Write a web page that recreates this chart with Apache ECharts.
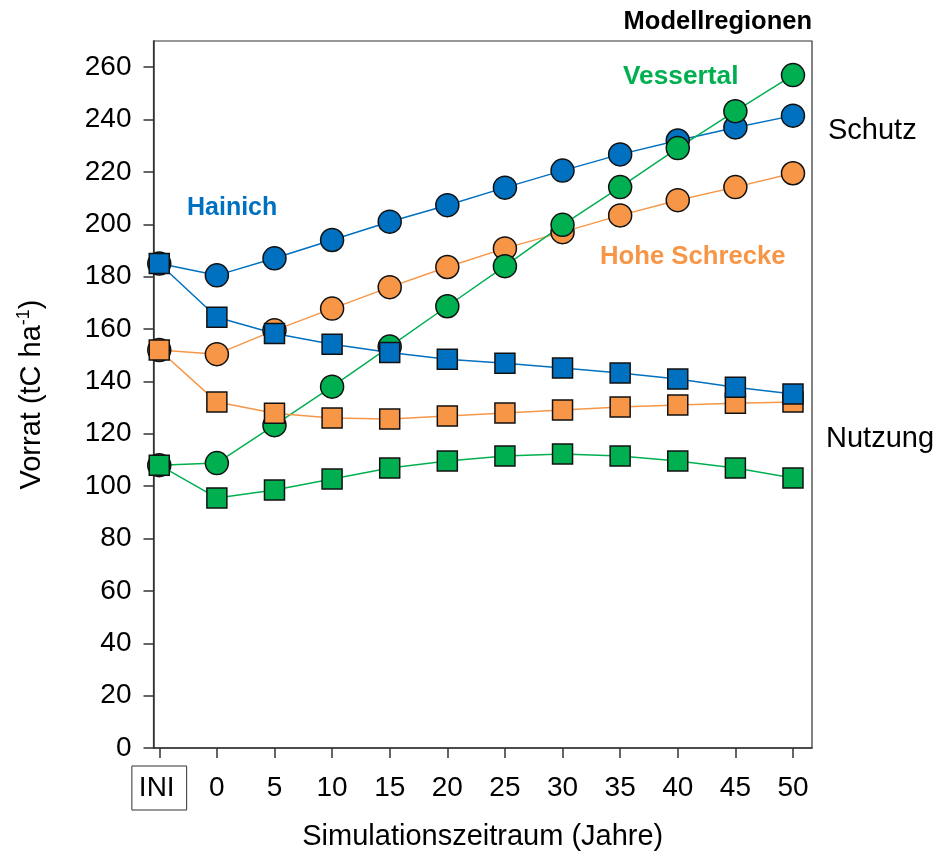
<!DOCTYPE html>
<html>
<head>
<meta charset="utf-8">
<script src="https://cdn.jsdelivr.net/npm/echarts@6/dist/echarts.min.js"></script>
<style>html,body{margin:0;padding:0;background:#fff;}#c{width:936px;height:857px;}</style>
</head>
<body>
<div id="c"></div>
<script>
const xLabels = ['INI','0','5','10','15','20','25','30','35','40','45','50'];
const yTicks = [0,20,40,60,80,100,120,140,160,180,200,220,240,260];
const hainichSchutz  = [185, 180.5, 187, 194, 201, 207.3, 214, 220.5, 226.7, 232, 237, 241.5];
const hainichNutzung = [185, 164.5, 158.3, 154.2, 151, 148.5, 146.9, 145.1, 143.2, 140.9, 137.8, 135.2];
const hoheSchutz     = [152, 150.4, 159.5, 167.8, 176, 183.7, 190.8, 197, 203.4, 209.2, 214.2, 219.5];
const hoheNutzung    = [152, 132.1, 127.8, 126, 125.6, 126.8, 127.9, 129.1, 130.2, 131, 131.7, 132.1];
const vesSchutz      = [108, 108.8, 123.3, 138, 153.3, 168.7, 184, 199.8, 214.2, 229.1, 243.2, 257];
const vesNutzung     = [108, 95.5, 98.5, 102.7, 106.9, 109.6, 111.5, 112.3, 111.5, 109.6, 106.9, 103.1];

const BLUE = '#0070C0', ORANGE = '#F79646', GREEN = '#00B050';
const FONT = '"Liberation Sans", Arial, sans-serif';

function mk(name, arr, color, symbol, size) {
  return {
    name: name, type: 'line', data: arr.map((v, i) => [i, v]),
    symbol: symbol, symbolSize: size, showAllSymbol: true,
    lineStyle: { color: color, width: 1.5 },
    itemStyle: { color: color, borderColor: '#111', borderWidth: 1.5 },
    emphasis: { disabled: true }, animation: false
  };
}

const chart = echarts.init(document.getElementById('c'), null, { renderer: 'canvas' });
chart.setOption({
  animation: false,
  backgroundColor: '#fff',
  grid: { left: 153.5, right: 124, top: 41, bottom: 109, show: true, borderColor: '#333', borderWidth: 1.2, backgroundColor: 'transparent' },
  xAxis: {
    type: 'value', min: -0.1, max: 11.33,
    axisLine: { show: true, onZero: false, lineStyle: { color: '#333', width: 1.5 } },
    axisTick: { show: true, length: 10, lineStyle: { color: '#333', width: 1.5 }, customValues: xLabels.map((_, i) => i) },
    splitLine: { show: false },
    axisLabel: {
      customValues: xLabels.map((_, i) => i), margin: 18,
      formatter: v => (v === 0 ? '{box|' + xLabels[v] + '}' : '{n|' + xLabels[v] + '}'),
      rich: {
        box: { fontSize: 28, fontFamily: FONT, color: '#000', borderColor: '#333', borderWidth: 1, padding: [8, 12, 8, 7] },
        n: { fontSize: 28, fontFamily: FONT, color: '#000', padding: [8, 0, 8, 0] }
      }
    },
    name: 'Simulationszeitraum (Jahre)', nameLocation: 'middle', nameGap: 74,
    nameTextStyle: { fontSize: 29, fontFamily: FONT, color: '#000' }
  },
  yAxis: {
    type: 'value', min: 0, max: 270, interval: 20,
    axisLine: { show: true, onZero: false, lineStyle: { color: '#333', width: 1.5 } },
    axisTick: { show: true, length: 10, lineStyle: { color: '#333', width: 1.5 }, customValues: yTicks },
    splitLine: { show: false },
    axisLabel: { customValues: yTicks, margin: 22, fontSize: 28, fontFamily: FONT, color: '#000' },
    name: 'Vorrat (tC ha{sup|-1})', nameLocation: 'middle', nameRotate: 90, nameGap: 106,
    nameTextStyle: {
      fontSize: 29, fontFamily: FONT, color: '#000',
      rich: { sup: { fontSize: 18, fontFamily: FONT, color: '#000', padding: [0, 0, 14, 0] } }
    }
  },
  series: [
    mk('Hainich Schutz', hainichSchutz, BLUE, 'circle', 23),
    mk('Hohe Schrecke Schutz', hoheSchutz, ORANGE, 'circle', 23),
    mk('Vessertal Schutz', vesSchutz, GREEN, 'circle', 23),
    mk('Vessertal Nutzung', vesNutzung, GREEN, 'rect', 20),
    mk('Hohe Schrecke Nutzung', hoheNutzung, ORANGE, 'rect', 20),
    mk('Hainich Nutzung', hainichNutzung, BLUE, 'rect', 20)
  ],
  graphic: [
    { type: 'text', style: { text: 'Modellregionen', x: 812, y: 22, textAlign: 'right', textVerticalAlign: 'middle', font: 'bold 25.5px ' + FONT, fill: '#000' } },
    { type: 'text', style: { text: 'Vessertal', x: 623, y: 77, textAlign: 'left', textVerticalAlign: 'middle', font: 'bold 26.3px ' + FONT, fill: GREEN } },
    { type: 'text', style: { text: 'Hainich', x: 187, y: 208, textAlign: 'left', textVerticalAlign: 'middle', font: 'bold 25px ' + FONT, fill: BLUE } },
    { type: 'text', style: { text: 'Hohe Schrecke', x: 600, y: 257, textAlign: 'left', textVerticalAlign: 'middle', font: 'bold 25.7px ' + FONT, fill: ORANGE } },
    { type: 'text', style: { text: 'Schutz', x: 828, y: 131, textAlign: 'left', textVerticalAlign: 'middle', font: '29px ' + FONT, fill: '#000' } },
    { type: 'text', style: { text: 'Nutzung', x: 826, y: 439, textAlign: 'left', textVerticalAlign: 'middle', font: '29px ' + FONT, fill: '#000' } }
  ]
});
</script>
</body>
</html>
